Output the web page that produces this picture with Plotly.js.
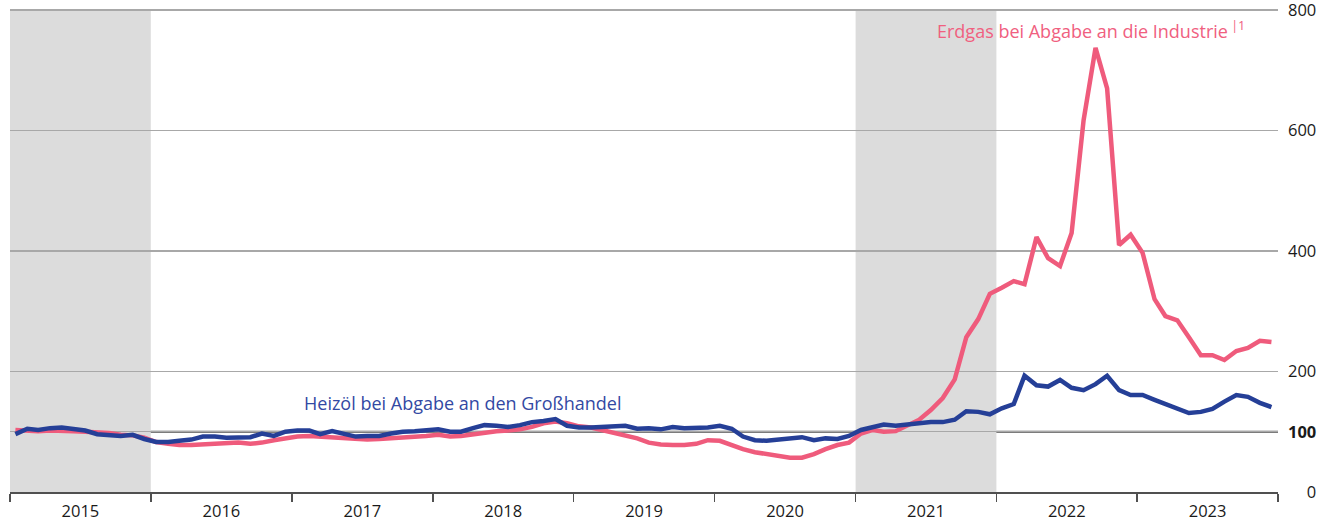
<!DOCTYPE html>
<html>
<head>
<meta charset="utf-8">
<script src="https://cdn.plot.ly/plotly-3.0.1.min.js"></script>
<style>html,body{margin:0;padding:0;background:#fff;}#chart{width:1331px;height:522px;}</style>
</head>
<body>
<div id="chart"></div>
<script>
// Monthly index values, Jan 2015 - Dec 2023 (2015 = 100)
const years = [2015, 2016, 2017, 2018, 2019, 2020, 2021, 2022, 2023];
const gasIndustry = [
  103,102,101,102,102,101,100,99,98,95,94,90,
  83,80,78,78,79,81,82,82,80,82,86,89,
  92,93,92,90,89,88,87,88,89,91,92,93,
  95,92,93,96,99,101,102,104,108,114,117,114,
  109,107,103,98,93,89,82,79,78,78,80,86,
  85,78,71,66,63,59,57,57,63,71,78,82,
  97,103,100,101,110,120,136,156,187,257,287,329,
  339,350,345,423,388,375,430,617,737,670,410,427,
  397,320,292,285,257,227,227,219,234,239,251,249
];
const heatingOil = [
  96,105,103,106,107,105,102,96,95,93,95,88,
  83,83,85,87,92,92,90,91,91,97,93,100,
  102,102,96,101,96,92,93,93,97,100,101,102,
  104,100,100,106,111,110,108,111,116,118,121,110,
  107,107,108,110,110,105,106,104,108,106,107,107,
  110,105,92,86,85,87,90,91,86,89,88,93,
  103,108,112,110,112,115,116,116,120,134,133,129,
  139,146,193,177,175,186,173,169,179,193,169,161,
  161,153,146,140,131,133,138,150,161,158,148,141
];
const yTickVals = [0, 100, 200, 400, 600, 800];
const yTickText = ['\u2007\u20070', '<b>100</b>', '200', '400', '600', '800'];
const labelOil = 'Heizöl bei Abgabe an den Großhandel';
const labelGas = 'Erdgas bei Abgabe an die Industrie<sup> |1</sup>';
const shadedYears = [2015, 2021];

const months = [];
years.forEach(y => { for (let m = 1; m <= 12; m++) months.push(y + '-' + String(m).padStart(2, '0') + '-15'); });

const FONT = '"Open Sans", "Noto Sans", sans-serif';
const BLUE = '#253f97';
const PINK = '#ef5b7c';

const traces = [
  { x: months, y: gasIndustry, type: 'scatter', mode: 'lines', line: { color: PINK, width: 4.5 }, hoverinfo: 'skip' },
  { x: months, y: heatingOil, type: 'scatter', mode: 'lines', line: { color: BLUE, width: 4.5 }, hoverinfo: 'skip' }
];

const shapes = shadedYears.map(y => ({
  type: 'rect', xref: 'x', yref: 'y', x0: y + '-01-01', x1: (y + 1) + '-01-01', y0: 0, y1: 800,
  fillcolor: '#dcdcdc', line: { width: 0 }, layer: 'below'
}));
shapes.push({ type: 'line', xref: 'paper', yref: 'y', x0: 0, x1: 1, y0: 100, y1: 100, line: { color: '#505050', width: 2 }, layer: 'below' });

const layout = {
  width: 1331, height: 522,
  margin: { l: 10, r: 53, t: 4, b: 30 },
  paper_bgcolor: '#fff', plot_bgcolor: 'rgba(0,0,0,0)',
  showlegend: false,
  font: { family: FONT, size: 16, color: '#1a1a1a' },
  xaxis: {
    type: 'date', range: ['2015-01-01', '2024-01-01'],
    tick0: '2015-01-01', dtick: 'M12', tickformat: '%Y', ticklabelmode: 'period',
    ticks: 'outside', ticklen: 8, tickwidth: 1.5, tickcolor: '#505050', ticklabelstandoff: -5,
    ticklabeloverflow: 'allow',
    showgrid: false, zeroline: false, showline: true, linecolor: '#505050', linewidth: 2,
    tickfont: { family: FONT, size: 16.5, color: '#1a1a1a' }, fixedrange: true
  },
  yaxis: {
    side: 'right', range: [0, 810], autorange: false, tickmode: 'array', tickvals: yTickVals, ticktext: yTickText,
    ticks: '', ticklabelstandoff: 9, ticklabeloverflow: 'allow',
    showgrid: true, gridcolor: '#a8a8a8', gridwidth: 1.2,
    zeroline: false, showline: false,
    tickfont: { family: FONT, size: 16.5, color: '#1a1a1a' }, fixedrange: true
  },
  shapes: shapes,
  annotations: [
    { xref: 'x', yref: 'y', x: '2017-01-28', y: 148, text: labelOil, showarrow: false, xanchor: 'left', yanchor: 'middle',
      font: { family: FONT, size: 18, color: '#3349a3' } },
    { xref: 'x', yref: 'y', x: '2021-07-25', y: 767, text: labelGas, showarrow: false, xanchor: 'left', yanchor: 'middle',
      font: { family: FONT, size: 18, color: '#f0607f' } }
  ]
};

Plotly.newPlot('chart', traces, layout, { displayModeBar: false, staticPlot: true });
</script>
</body>
</html>
